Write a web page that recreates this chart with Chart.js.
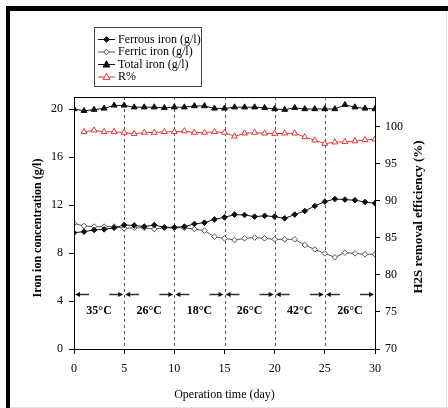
<!DOCTYPE html>
<html>
<head>
<meta charset="utf-8">
<script src="https://cdn.jsdelivr.net/npm/chart.js@4/dist/chart.umd.min.js"></script>
<style>
  html, body { margin: 0; padding: 0; background: #fff; }
  #wrap { width: 448px; height: 408px; position: relative; }
</style>
</head>
<body>
<div id="wrap"><canvas id="c" width="448" height="408"></canvas></div>
<script>
// Operation days
const days = [0, 1, 2, 3, 4, 5, 6, 7, 8, 9, 10, 11, 12, 13, 14, 15, 16, 17, 18, 19, 20,
              21, 22, 23, 24, 25, 26, 27, 28, 29, 30];

// Iron concentrations (g/l)
const ferrousIron = [9.69, 9.78, 9.92, 9.97, 10.1, 10.33, 10.3, 10.2, 10.33, 10.14, 10.14,
                     10.2, 10.42, 10.53, 10.8, 10.97, 11.2, 11.17, 11.03, 11.1, 11.03,
                     10.89, 11.2, 11.5, 11.92, 12.28, 12.5, 12.45, 12.4, 12.25, 12.14];
const ferricIron  = [10.47, 10.25, 10.2, 10.2, 10.2, 10.05, 10.1, 10.1, 10.0, 10.1, 10.1,
                     10.1, 10.0, 9.86, 9.36, 9.22, 9.08, 9.22, 9.28, 9.22, 9.14,
                     9.14, 9.14, 8.67, 8.3, 7.97, 7.64, 8.03, 7.97, 7.89, 7.89];
const totalIron   = [20.0, 19.85, 19.95, 20.05, 20.3, 20.3, 20.15, 20.15, 20.15, 20.1, 20.15,
                     20.15, 20.25, 20.25, 20.05, 20.05, 20.15, 20.15, 20.15, 20.1, 20.0,
                     19.95, 20.1, 20.0, 20.0, 20.0, 20.0, 20.35, 20.15, 20.05, 20.0];

// H2S removal efficiency (%), first measured on day 1
const removalPct  = [null, 99.3, 99.5, 99.3, 99.3, 99.2, 99.05, 99.2, 99.2, 99.3, 99.3,
                     99.4, 99.2, 99.2, 99.3, 99.2, 98.7, 99.1, 99.2, 99.1, 99.05,
                     99.1, 99.1, 98.6, 98.15, 97.7, 97.9, 97.95, 98.05, 98.2, 98.3];

// Temperature phases
const phaseBounds = [0, 5, 10, 15, 20, 25, 30];
const phaseLabels = ['35°C', '26°C', '18°C', '26°C', '42°C', '26°C'];
const phaseArrowLevel = 4.55;

// Axis ticks
const xTicks = [0, 5, 10, 15, 20, 25, 30];
const leftTicks = [0, 4, 8, 12, 16, 20];
const rightTicks = [70, 75, 80, 85, 90, 95, 100];

const seriesNames = ['Ferrous iron (g/l)', 'Ferric iron (g/l)', 'Total iron (g/l)', 'R%'];
const xTitle = 'Operation time (day)';
const leftTitle = 'Iron ion concentration (g/l)';
const rightTitle = 'H2S removal efficiency (%)';

const SERIF = '"Liberation Serif", "DejaVu Serif", serif';
const RED = '#dd3a36';

function pts(vals) {
  return days.map((d, i) => ({ x: d, y: vals[i] }));
}

function drawMarker(ctx, style, x, y, r, fill, stroke) {
  ctx.save();
  ctx.beginPath();
  if (style === 'triangle') {
    ctx.moveTo(x, y - r * 1.1);
    ctx.lineTo(x + r, y + r * 0.75);
    ctx.lineTo(x - r, y + r * 0.75);
    ctx.closePath();
  } else {
    ctx.moveTo(x, y - r);
    ctx.lineTo(x + r, y);
    ctx.lineTo(x, y + r);
    ctx.lineTo(x - r, y);
    ctx.closePath();
  }
  ctx.fillStyle = fill;
  ctx.fill();
  ctx.strokeStyle = stroke;
  ctx.lineWidth = 1;
  ctx.stroke();
  ctx.restore();
}

// Page frame, plot box, phase dividers, arrows and legend
const decorations = {
  id: 'decorations',
  beforeDraw(chart) {
    const ctx = chart.ctx;
    ctx.save();
    ctx.fillStyle = '#fff';
    ctx.fillRect(0, 0, chart.width, chart.height);
    ctx.fillStyle = '#000';
    ctx.fillRect(6, 6, chart.width - 6, 5);
    ctx.fillRect(6, 6, 4, chart.height - 6);
    ctx.fillStyle = '#e4e4e4';
    ctx.fillRect(chart.width - 2, 11, 1, chart.height - 11);
    ctx.fillRect(10, chart.height - 1, chart.width - 10, 1);
    ctx.restore();
  },
  beforeDatasetsDraw(chart) {
    const ctx = chart.ctx;
    const a = chart.chartArea;
    const xs = chart.scales.x;
    ctx.save();
    ctx.strokeStyle = '#555';
    ctx.lineWidth = 1;
    ctx.setLineDash([3, 3]);
    phaseBounds.slice(1, -1).forEach(v => {
      const px = Math.round(xs.getPixelForValue(v)) + 0.5;
      ctx.beginPath();
      ctx.moveTo(px, a.top);
      ctx.lineTo(px, a.bottom);
      ctx.stroke();
    });
    ctx.restore();

    // phase arrows and temperatures
    const ys = chart.scales.y;
    const py = Math.round(ys.getPixelForValue(phaseArrowLevel)) + 0.5;
    ctx.save();
    for (let i = 0; i < phaseLabels.length; i++) {
      const x0 = xs.getPixelForValue(phaseBounds[i]);
      const x1 = xs.getPixelForValue(phaseBounds[i + 1]);
      ctx.strokeStyle = '#333';
      ctx.lineWidth = 1.4;
      ctx.beginPath();
      ctx.moveTo(x0 + 4, py); ctx.lineTo(x0 + 15, py);
      ctx.moveTo(x1 - 15, py); ctx.lineTo(x1 - 4, py);
      ctx.stroke();
      ctx.fillStyle = '#111';
      ctx.beginPath();
      ctx.moveTo(x0 + 1, py); ctx.lineTo(x0 + 6, py - 2.5); ctx.lineTo(x0 + 6, py + 2.5);
      ctx.closePath(); ctx.fill();
      ctx.beginPath();
      ctx.moveTo(x1 - 1, py); ctx.lineTo(x1 - 6, py - 2.5); ctx.lineTo(x1 - 6, py + 2.5);
      ctx.closePath(); ctx.fill();
      ctx.fillStyle = '#000';
      ctx.font = 'bold 12px ' + SERIF;
      ctx.textAlign = 'center';
      ctx.textBaseline = 'middle';
      ctx.fillText(phaseLabels[i], (x0 + x1) / 2, py + 16);
    }
    ctx.restore();
  },
  afterDraw(chart) {
    const ctx = chart.ctx;
    const a = chart.chartArea;
    ctx.save();
    ctx.strokeStyle = '#000';
    ctx.lineWidth = 1;
    ctx.strokeRect(Math.round(a.left) + 0.5, Math.round(a.top) + 0.5,
                   Math.round(a.right - a.left), Math.round(a.bottom - a.top));

    // axis titles
    ctx.fillStyle = '#000';
    ctx.textAlign = 'center';
    ctx.textBaseline = 'middle';
    ctx.font = '12px ' + SERIF;
    ctx.fillText(xTitle, (a.left + a.right) / 2, 395);
    ctx.save();
    ctx.translate(38, 228);
    ctx.rotate(-Math.PI / 2);
    ctx.font = 'bold 12px ' + SERIF;
    ctx.fillText(leftTitle, 0, 0);
    ctx.restore();
    ctx.save();
    ctx.translate(419, 217);
    ctx.rotate(-Math.PI / 2);
    ctx.font = 'bold 13px ' + SERIF;
    ctx.fillText(rightTitle, 0, 0);
    ctx.restore();

    // legend
    const bx = 94.5, by = 27.5, bw = 107, bh = 59;
    ctx.strokeStyle = '#444';
    ctx.strokeRect(bx, by, bw, bh);
    chart.data.datasets.forEach((ds, i) => {
      const ry = 39.5 + i * 12.5;
      ctx.strokeStyle = ds.borderColor;
      ctx.lineWidth = 1;
      ctx.beginPath();
      ctx.moveTo(98, ry); ctx.lineTo(115, ry);
      ctx.stroke();
      drawMarker(ctx, ds.pointStyle === 'triangle' ? 'triangle' : 'diamond', 106.5, ry,
                 ds.pointRadius, ds.pointBackgroundColor, ds.pointBorderColor);
      ctx.fillStyle = '#000';
      ctx.font = '12px ' + SERIF;
      ctx.textAlign = 'left';
      ctx.fillText(ds.label, 118, ry);
    });
    ctx.restore();
  }
};

const datasets = [
  { label: seriesNames[0], data: pts(ferrousIron), yAxisID: 'y',
    borderColor: '#111', pointStyle: 'rectRot', pointRadius: 2.8,
    pointBackgroundColor: '#111', pointBorderColor: '#111' },
  { label: seriesNames[1], data: pts(ferricIron), yAxisID: 'y',
    borderColor: '#555', pointStyle: 'rectRot', pointRadius: 2.8,
    pointBackgroundColor: '#fff', pointBorderColor: '#555' },
  { label: seriesNames[2], data: pts(totalIron), yAxisID: 'y',
    borderColor: '#111', pointStyle: 'triangle', pointRadius: 3.4,
    pointBackgroundColor: '#111', pointBorderColor: '#111' },
  { label: seriesNames[3], data: pts(removalPct), yAxisID: 'y1',
    borderColor: RED, pointStyle: 'triangle', pointRadius: 3.4,
    pointBackgroundColor: '#fff', pointBorderColor: RED }
].map(d => Object.assign({ borderWidth: 1, pointBorderWidth: 1, tension: 0, fill: false }, d));

const tickFont = { family: SERIF, size: 12 };

new Chart(document.getElementById('c'), {
  type: 'line',
  data: { datasets },
  options: {
    responsive: false,
    animation: false,
    devicePixelRatio: 1,
    layout: { padding: { top: 97, left: 0, right: 0, bottom: 0 } },
    plugins: { legend: { display: false }, tooltip: { enabled: false } },
    scales: {
      x: {
        type: 'linear', min: 0, max: 30,
        afterBuildTicks: s => { s.ticks = xTicks.map(v => ({ value: v })); },
        afterFit: s => { s.height = 59; },
        ticks: { color: '#000', font: tickFont, padding: 8, maxRotation: 0 },
        grid: { drawOnChartArea: false, tickLength: 5, color: '#000' },
        border: { color: '#000' }
      },
      y: {
        position: 'left', min: 0, max: 21,
        afterBuildTicks: s => { s.ticks = leftTicks.map(v => ({ value: v })); },
        afterFit: s => { s.width = 74; },
        ticks: { color: '#000', font: tickFont, padding: 6 },
        grid: { drawOnChartArea: false, tickLength: 5, color: '#000' },
        border: { color: '#000' }
      },
      y1: {
        position: 'right', min: 70, max: 104,
        afterBuildTicks: s => { s.ticks = rightTicks.map(v => ({ value: v })); },
        afterFit: s => { s.width = 73; },
        ticks: { color: '#000', font: tickFont, padding: 5 },
        grid: { drawOnChartArea: false, tickLength: 5, color: '#000' },
        border: { color: '#000' }
      }
    }
  },
  plugins: [decorations]
});
</script>
</body>
</html>
